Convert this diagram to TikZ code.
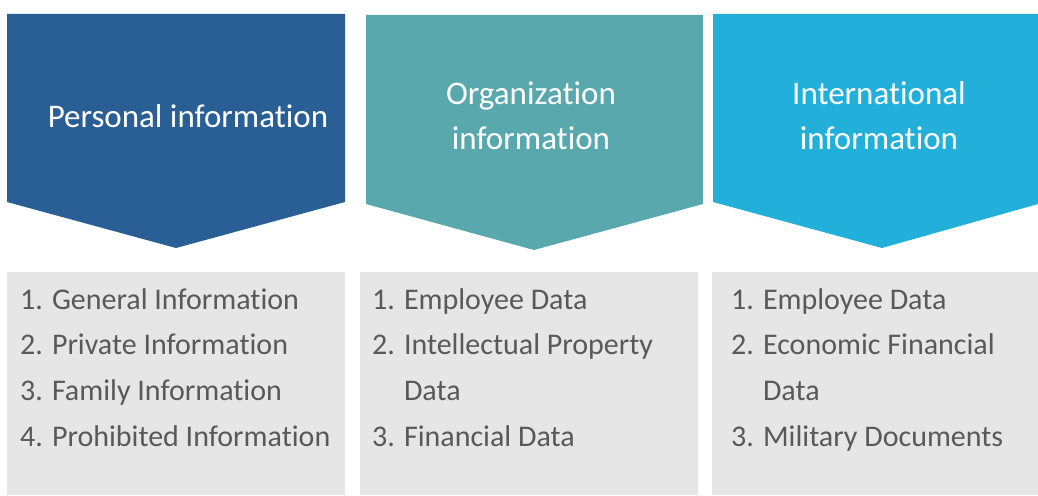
\documentclass[tikz,border=0pt]{standalone}
\usepackage{fontspec}
\setmainfont{Carlito}[Ligatures=NoCommon]
\usetikzlibrary{positioning}
\definecolor{persblue}{HTML}{2A5F96}
\definecolor{orgteal}{HTML}{59A8AD}
\definecolor{intcyan}{HTML}{22B0DB}
\definecolor{boxgray}{HTML}{E6E6E6}
\definecolor{itemgray}{HTML}{595959}
\tikzset{
  header/.style={text=white, align=center, inner sep=0pt, anchor=base, font=\fontsize{33}{45}\selectfont},
  itemlist/.style={text=itemgray, align=left, inner sep=0pt, anchor=base west, font=\fontsize{30}{45.6}\selectfont}
}

\begin{document}
\begin{tikzpicture}[x=1pt,y=-1pt]
   \useasboundingbox (0,0) rectangle (1038,495);
   % chevrons
   \fill[persblue] (7,14) -- (345,14) -- (345,202) -- (176,248) -- (7,202) -- cycle;
   \fill[orgteal] (366,15) -- (703,15) -- (703,204) -- (534,250) -- (366,204) -- cycle;
   \fill[intcyan] (713,14) -- (1038,14) -- (1038,204) -- (882,248) -- (713,202) -- cycle;
   % boxes below
   \fill[boxgray] (7,272) rectangle (345,495);
   \fill[boxgray] (360,272) rectangle (698,495);
   \fill[boxgray] (712,272) rectangle (1038,495);
   % headers (anchored on the last baseline)
   \node [header] (H_pers) at (188,127) {Personal information};
   \node [header] (H_org) at (531,149) {Organization\\information};
   \node [header] (H_int) at (879,149) {International\\information};
   % item lists
   \node [itemlist] (L_pers) at (20,446) {1. General Information\\2. Private Information\\3. Family Information\\4. Prohibited Information};
   \node [itemlist] (L_org) at (372,446) {1. Employee Data\\2. Intellectual Property\\\phantom{2. }Data\\3. Financial Data};
   \node [itemlist] (L_int) at (731,446) {1. Employee Data\\2. Economic Financial\\\phantom{2. }Data\\3. Military Documents};
\end{tikzpicture}
\end{document}
